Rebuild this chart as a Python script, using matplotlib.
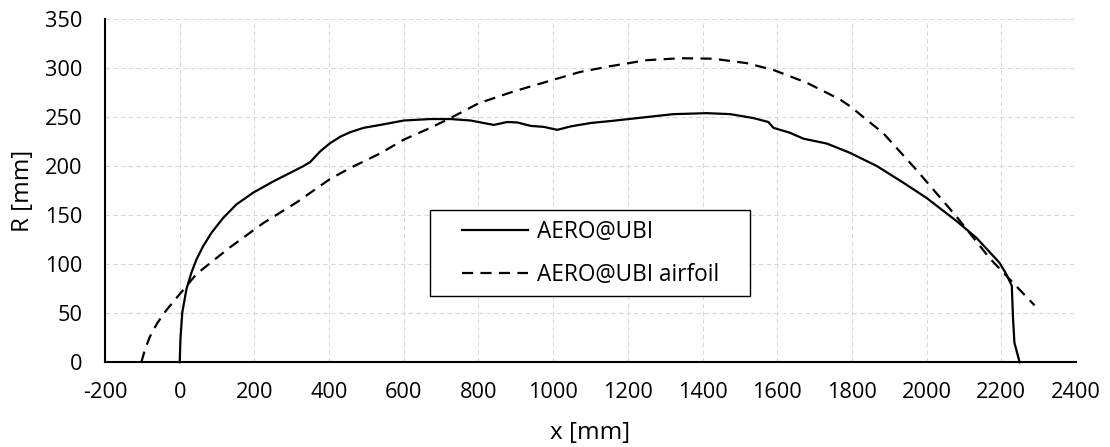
import matplotlib
matplotlib.use("Agg")
import matplotlib.pyplot as plt
from matplotlib.patches import Rectangle

plt.rcParams['font.family'] = ['Open Sans', 'DejaVu Sans']

# Data
x_solid = [0, 2, 7, 18, 31, 45, 63, 85, 116, 152, 197, 251, 295, 331, 349, 376, 403,
           430, 456, 492, 537, 600, 671, 725, 779, 841, 877, 904, 940, 975, 1011,
           1047, 1101, 1155, 1250, 1322, 1411, 1474, 1536, 1576, 1590, 1634, 1670,
           1733, 1795, 1867, 1938, 2000, 2080, 2133, 2195, 2213, 2228, 2231, 2235, 2249]
y_solid = [0, 24, 51, 74.5, 91, 105, 118.5, 132, 147, 161, 173, 184.5, 193, 200, 204, 215, 223.5,
           230, 234.5, 239, 242, 246.5, 248, 248, 246.5, 242, 245, 244.5, 241, 240, 237,
           240.5, 244, 246, 250, 253, 254, 253, 249, 245, 239, 234, 228,
           223, 213.5, 200, 183, 167.5, 144, 127, 101.5, 90, 78, 47, 20, 0]

x_airfoil = [-103, -92, -80, -60, -36, 0, 45, 134, 224, 313, 403, 456, 537, 600, 671, 725,
             800, 893, 1000, 1072, 1155, 1250, 1340, 1429, 1518, 1590, 1679, 1768, 1795,
             1884, 1973, 2080, 2169, 2289]
y_airfoil = [0, 14, 26, 40, 53, 69.5, 90, 117, 142, 163, 187, 198, 213, 227, 239, 249,
             264, 276, 288, 296, 302, 308, 310, 309.5, 305, 298, 285, 268, 261,
             233.5, 196, 148.5, 106, 58]

labels = ["AERO@UBI", "AERO@UBI airfoil"]
x_ticks = list(range(-200, 2401, 200))
y_ticks = list(range(0, 351, 50))

FS = 15.7
FS_LAB = 17.5
FS_LEG = 16.3

fig = plt.figure(figsize=(11.10, 4.47), dpi=100)
ax = fig.add_axes([0.0946, 0.1895, 0.8748, 0.768])

ax.plot(x_solid, y_solid, color='black', lw=1.6, label=labels[0], clip_on=False, zorder=3)
ax.plot(x_airfoil, y_airfoil, color='black', lw=1.6, dashes=(5, 3.3), label=labels[1],
        clip_on=False, zorder=3)

ax.set_xlim(-200, 2400)
ax.set_ylim(0, 350)
ax.set_xticks(x_ticks)
ax.set_yticks(y_ticks)
ax.set_xticklabels([str(v) for v in x_ticks])
ax.set_yticklabels([str(v) for v in y_ticks])
ax.tick_params(axis='x', length=0, pad=14.0, labelsize=FS)
ax.tick_params(axis='y', length=0, pad=16.5, labelsize=FS)

ax.grid(True, color='#d9d9d9', lw=0.8, linestyle=(0, (4, 3)))
ax.set_axisbelow(True)
for s in ['top', 'right']:
    ax.spines[s].set_visible(False)
for s in ['left', 'bottom']:
    ax.spines[s].set_linewidth(1.5)
    ax.spines[s].set_color('black')
    ax.spines[s].set_zorder(4)

ax.set_xlabel("x [mm]", fontsize=FS_LAB)
ax.set_ylabel("R [mm]", fontsize=FS_LAB)
ax.xaxis.set_label_coords(0.5, -0.172)
ax.yaxis.set_label_coords(-0.072, 0.5)

# legend frame
ax.add_patch(Rectangle((0.335, 0.192), 0.329, 0.251, transform=ax.transAxes,
                       facecolor='white', edgecolor='black', lw=1.0, zorder=5))
leg = ax.legend(loc='center left', bbox_to_anchor=(0.3677, 0.317), frameon=False,
                fontsize=FS_LEG, handlelength=2.9, handletextpad=0.4, labelspacing=0.85,
                borderpad=0, borderaxespad=0)
leg.set_zorder(6)

fig.savefig("out.png", dpi=100)
